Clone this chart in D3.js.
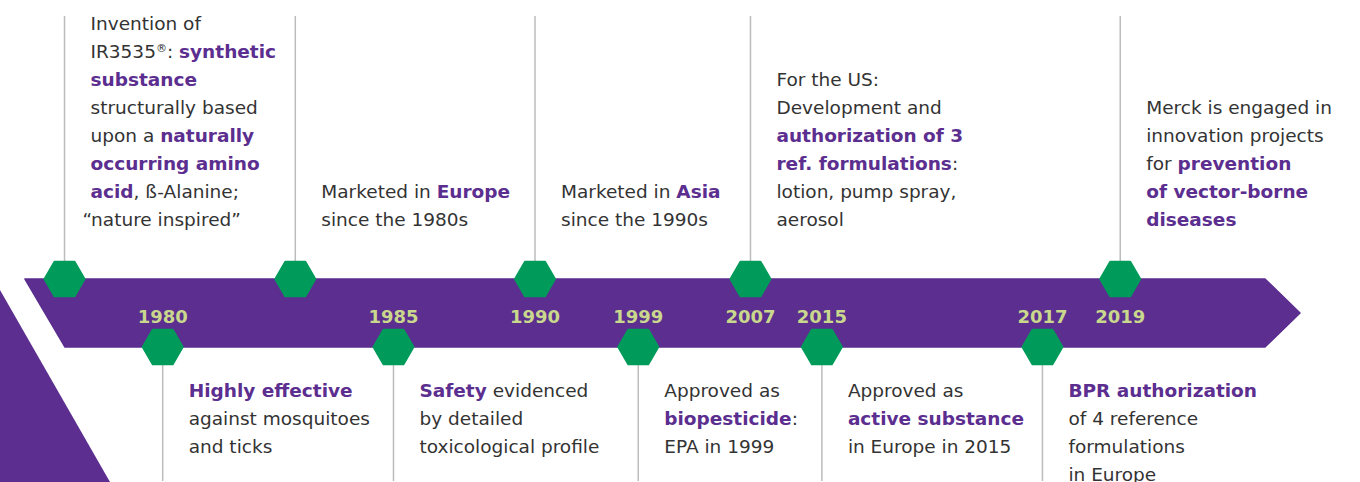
<!DOCTYPE html>
<html>
<head>
<meta charset="utf-8">
<script src="https://cdn.jsdelivr.net/npm/d3@7"></script>
<style>
body { margin: 0; background: #fff; }
svg { display: block; font-family: "DejaVu Sans", Verdana, sans-serif; }
</style>
</head>
<body>
<script>
// timeline events, left to right (position = % along the arrow)
const eventPos  = [3.1, 10.8, 21.2, 28.9, 40.0, 48.1, 56.9, 62.5, 79.8, 85.9];
const eventSide = ['top', 'bottom', 'top', 'bottom', 'top', 'bottom', 'top', 'bottom', 'bottom', 'top'];
const eventYear = ['', '1980', '', '1985', '1990', '1999', '2007', '2015', '2017', '2019'];
// **...** = highlighted (bold purple)
const eventText = [
    ['Invention of', 'IR3535®: **synthetic**', '**substance**', 'structurally based',
     'upon a **naturally**', '**occurring amino**', '**acid**, ß-Alanine;', '“nature inspired”'],
    ['**Highly effective**', 'against mosquitoes', 'and ticks'],
    ['Marketed in **Europe**', 'since the 1980s'],
    ['**Safety** evidenced', 'by detailed', 'toxicological profile'],
    ['Marketed in **Asia**', 'since the 1990s'],
    ['Approved as', '**biopesticide**:', 'EPA in 1999'],
    ['For the US:', 'Development and', '**authorization of 3**', '**ref. formulations**:',
     'lotion, pump spray,', 'aerosol'],
    ['Approved as', '**active substance**', 'in Europe in 2015'],
    ['**BPR authorization**', 'of 4 reference', 'formulations', 'in Europe'],
    ['Merck is engaged in', 'innovation projects', 'for **prevention**', '**of vector-borne**', '**diseases**']
];

const PURPLE = '#5b2e8f';
const GREEN = '#009b5a';
const YEAR_COL = '#c9d88c';
const TEXT_COL = '#333333';
const LINE_COL = '#bcbcbc';

const W = 1360, H = 482;
const bandTop = 279, bandBot = 347;
const lineH = 28;

let svg = d3.select('body').append('svg')
    .attr('width', W)
    .attr('height', H);

let x = d3.scaleLinear().domain([0, 100]).range([25, 1300]);

// left decorative triangle
svg.append('path')
    .attr('d', 'M0,290 L110,482 L0,482 Z')
    .attr('fill', PURPLE);

// the arrow band
let slant = 40;
let headW = 35;
let band = d3.path();
band.moveTo(x(0), bandTop);
band.lineTo(x(100) - headW, bandTop);
band.lineTo(x(100), (bandTop + bandBot) / 2);
band.lineTo(x(100) - headW, bandBot);
band.lineTo(x(0) + slant, bandBot);
band.closePath();
svg.append('path')
    .attr('d', band.toString())
    .attr('fill', PURPLE)
    .attr('stroke', PURPLE)
    .attr('stroke-width', 1.5)
    .attr('stroke-linejoin', 'round');

let events = eventPos.map((p, i) => ({
    x: x(p), side: eventSide[i], year: eventYear[i], lines: eventText[i]
}));

// connector lines
svg.selectAll('line.conn')
    .data(events)
    .enter().append('line')
        .attr('class', 'conn')
        .attr('x1', d => d.x)
        .attr('x2', d => d.x)
        .attr('y1', d => d.side == 'top' ? 16 : bandBot)
        .attr('y2', d => d.side == 'top' ? bandTop : 481)
        .attr('stroke', LINE_COL)
        .attr('stroke-width', 1.5);

// hexagons
let r = 20;
let hexPts = d3.range(6).map(k => [r * Math.cos(k * Math.PI / 3), r * Math.sin(k * Math.PI / 3)]);
svg.selectAll('path.hex')
    .data(events)
    .enter().append('path')
        .attr('class', 'hex')
        .attr('d', 'M' + hexPts.join('L') + 'Z')
        .attr('transform', d => `translate(${d.x},${d.side == 'top' ? bandTop : bandBot})`)
        .attr('fill', GREEN)
        .attr('stroke', GREEN)
        .attr('stroke-width', 2)
        .attr('stroke-linejoin', 'round');

// year labels
svg.selectAll('text.year')
    .data(events.filter(d => d.year != ''))
    .enter().append('text')
        .attr('class', 'year')
        .attr('x', d => d.x)
        .attr('y', 323)
        .attr('text-anchor', 'middle')
        .attr('font-size', 18)
        .attr('font-weight', 'bold')
        .attr('fill', YEAR_COL)
        .text(d => d.year);

// description texts
function addLine(sel, str) {
    let parts = str.split('**');
    parts.forEach((p, k) => {
        if (p == '') return;
        let bold = k % 2 == 1;
        let segs = p.split('®');
        segs.forEach((s, j) => {
            if (s != '') {
                sel.append('tspan')
                    .attr('font-weight', bold ? 'bold' : 'normal')
                    .attr('fill', bold ? PURPLE : TEXT_COL)
                    .text(s);
            }
            if (j < segs.length - 1) {
                sel.append('tspan')
                    .attr('font-size', 11)
                    .attr('baseline-shift', '6')
                    .attr('fill', TEXT_COL)
                    .text('®');
            }
        });
    });
}

events.forEach(d => {
    let n = d.lines.length;
    d.lines.forEach((ln, k) => {
        let y = d.side == 'top' ? 226 - (n - 1 - k) * lineH : 397 + k * lineH;
        let t = svg.append('text')
            .attr('x', d.x + 26 + (ln[0] == '“' ? -8 : 0))
            .attr('y', y)
            .attr('font-size', 18.5)
            .attr('fill', TEXT_COL);
        addLine(t, ln);
    });
});
</script>
</body>
</html>
